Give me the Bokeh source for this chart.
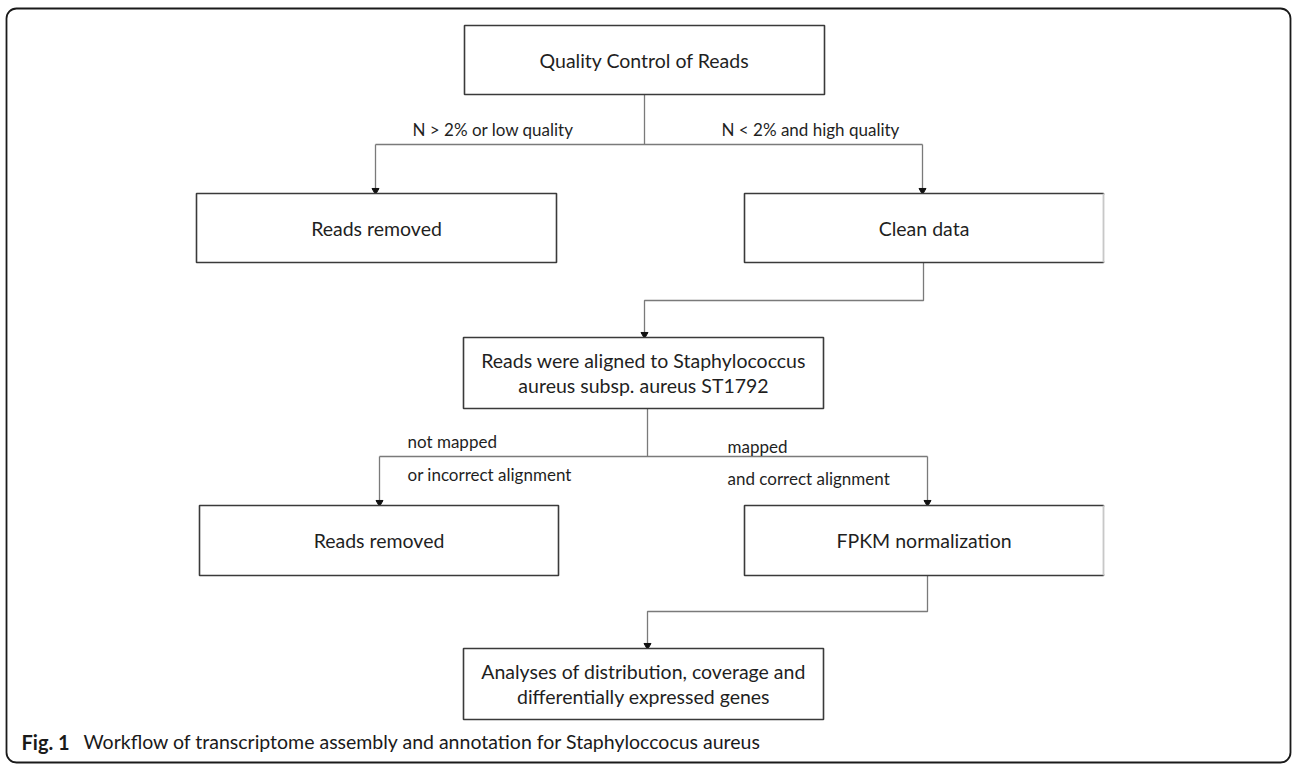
from bokeh.plotting import figure
from bokeh.models import Range1d, BoxAnnotation, ColumnDataSource
from bokeh.core.properties import value
from bokeh.embed import file_html
from bokeh.resources import INLINE

# ---- content (texts) ----
node_texts = [
    "Quality Control of Reads",
    "Reads removed",
    "Clean data",
    "Reads were aligned to Staphylococcus\naureus subsp. aureus ST1792",
    "Reads removed",
    "FPKM normalization",
    "Analyses of distribution, coverage and\ndifferentially expressed genes",
]
edge_labels = [
    "N > 2% or low quality",
    "N < 2% and high quality",
    "not mapped",
    "or incorrect alignment",
    "mapped",
    "and correct alignment",
]
caption_bold = "Fig. 1"
caption_text = "Workflow of transcriptome assembly and annotation for Staphyloccocus aureus"

# ---- layout (page pixel coordinates) ----
box_left = [464, 196, 744, 463, 199, 744, 463]
box_right = [824, 556, 1103, 823, 558, 1103, 823]
box_top = [25, 193, 193, 337, 505, 505, 648]
box_bottom = [94, 262, 262, 408, 575, 575, 719]
right_col = [2, 5]  # boxes whose right edge looks faded

label_x = [412, 721, 407, 407, 727, 727]
label_y = [129, 129, 441, 474, 446, 478]

# connectors: polylines (x list, y list); last point gets an arrow head
conn_xs = [
    [644, 644], [375, 922],
    [375, 375], [922, 922],
    [923, 923, 644, 644],
    [647, 647], [379, 927],
    [379, 379], [927, 927],
    [927, 927, 647, 647],
]
conn_ys = [
    [94, 144], [144, 144],
    [144, 193], [144, 193],
    [262, 300, 300, 337],
    [408, 456], [456, 456],
    [456, 505], [456, 505],
    [575, 611, 611, 648],
]
arrow_idx = [2, 3, 4, 7, 8, 9]

W, H = 1292, 768
p = figure(width=W, height=H, output_backend="svg", toolbar_location=None,
           x_range=Range1d(0, W), y_range=Range1d(H, 0),
           min_border=0, background_fill_color="white", border_fill_color="white")
p.axis.visible = False
p.grid.visible = False
p.outline_line_color = None

# outer rounded frame
p.add_layout(BoxAnnotation(left=6, right=1290, top=8, bottom=762,
                           fill_alpha=0, line_color="#1a1a1a", line_alpha=1.0,
                           line_width=1.8, border_radius=10))

# connectors
p.multi_line(xs=conn_xs, ys=conn_ys, line_color="#7a7a7a", line_width=1.3)
ax = [conn_xs[i][-1] for i in arrow_idx]
ay = [conn_ys[i][-1] - 3 for i in arrow_idx]
p.scatter(x=ax, y=ay, marker="inverted_triangle", size=7, fill_color="#111",
          line_color="#111")

# boxes
bsrc = ColumnDataSource(dict(left=box_left, right=box_right, top=box_top, bottom=box_bottom))
p.quad(left="left", right="right", top="top", bottom="bottom", source=bsrc,
       fill_color="white", line_color="#3a3a3a", line_width=1.6)
# faded right edges
fx = [box_right[i] for i in right_col]
p.segment(x0=fx, x1=fx, y0=[box_top[i] + 1 for i in right_col],
          y1=[box_bottom[i] - 1 for i in right_col], line_color="white", line_width=2.5)
p.segment(x0=fx, x1=fx, y0=[box_top[i] for i in right_col],
          y1=[box_bottom[i] for i in right_col], line_color="#c8c8c8", line_width=1.4)

# box texts
tx, ty, tt = [], [], []
for i, t in enumerate(node_texts):
    lines = t.split("\n")
    cx = (box_left[i] + box_right[i]) / 2
    cy = (box_top[i] + box_bottom[i]) / 2
    n = len(lines)
    for k, ln in enumerate(lines):
        tx.append(cx)
        ty.append(cy + (k - (n - 1) / 2) * 25.5)
        tt.append(ln)
p.text(x=tx, y=ty, text=tt, text_align="center", text_baseline="middle",
       text_font=value("Lato"), text_font_size="19.5px", text_color="#1f1f1f")

# edge labels
p.text(x=label_x, y=label_y, text=edge_labels, text_align="left", text_baseline="middle",
       text_font=value("Lato"), text_font_size="17px", text_color="#1f1f1f")

# caption
p.text(x=[21], y=[741], text=[caption_bold], text_align="left", text_baseline="middle",
       text_font=value("Lato"), text_font_style="bold", text_font_size="20px",
       text_color="#1a1a1a")
p.text(x=[83], y=[741], text=[caption_text], text_align="left", text_baseline="middle",
       text_font=value("Lato"), text_font_size="19.5px", text_color="#1a1a1a")

open("out.html", "w").write(file_html(p, INLINE))
